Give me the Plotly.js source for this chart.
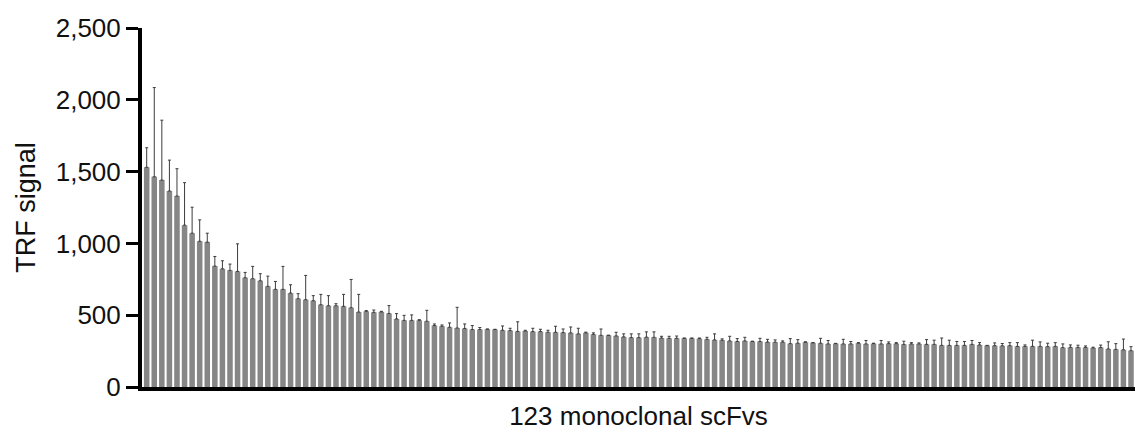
<!DOCTYPE html>
<html>
<head>
<meta charset="utf-8">
<script src="https://cdn.plot.ly/plotly-3.0.1.min.js"></script>
<style>
  html, body { margin: 0; padding: 0; background: #fff; }
  #chart { width: 1137px; height: 439px; }
</style>
</head>
<body>
<div id="chart"></div>
<script>
// TRF signal per monoclonal scFv clone (sorted, mean values)
const signalValues = [
  1530, 1464, 1441, 1365, 1330, 1127, 1071, 1015, 1009, 842,
  823, 812, 805, 761, 754, 740, 701, 680, 680, 654,
  615, 608, 601, 573, 566, 566, 562, 552, 522, 527,
  520, 523, 512, 474, 464, 464, 464, 458, 428, 423,
  416, 411, 407, 400, 400, 402, 400, 395, 393, 387,
  390, 386, 386, 381, 381, 379, 377, 370, 377, 367,
  360, 360, 356, 349, 344, 344, 347, 346, 341, 339,
  339, 339, 339, 337, 332, 328, 326, 321, 317, 321,
  317, 317, 313, 312, 312, 302, 305, 312, 307, 305,
  300, 302, 300, 300, 305, 300, 302, 300, 302, 302,
  297, 300, 300, 297, 297, 290, 290, 290, 290, 297,
  293, 288, 288, 287, 288, 283, 283, 283, 283, 281,
  283, 274, 276, 276, 276, 272, 275, 265, 262, 259,
  253
];
// Upper error (SD) for each clone
const signalErrors = [
  136, 621, 417, 215, 190, 296, 181, 149, 62, 67,
  56, 44, 192, 37, 86, 49, 71, 55, 160, 58,
  35, 169, 35, 72, 70, 14, 83, 197, 123, 5,
  16, 4, 55, 37, 35, 38, 5, 76, 11, 9,
  30, 144, 32, 28, 14, 2, 2, 30, 16, 67,
  5, 23, 16, 14, 42, 25, 41, 39, 5, 10,
  44, 0, 25, 21, 26, 26, 37, 38, 12, 14,
  16, 2, 2, 4, 14, 42, 9, 32, 20, 25,
  2, 22, 19, 16, 9, 35, 25, 3, 3, 34,
  24, 2, 32, 17, 4, 24, 3, 24, 12, 7,
  22, 9, 7, 33, 29, 51, 36, 27, 27, 27,
  16, 2, 19, 16, 21, 26, 10, 43, 31, 24,
  26, 26, 17, 15, 10, 5, 17, 50, 40, 75,
  28
];
const yTickValues = [0, 500, 1000, 1500, 2000, 2500];
const yTickLabels = ['0', '500', '1,000', '1,500', '2,000', '2,500'];
const xTitle = '123 monoclonal scFvs';
const yTitle = 'TRF signal';

const cloneIndex = signalValues.map((_, i) => i + 1);
const lowerZero = signalValues.map(() => 0);

const FONT = 'Arial, "Liberation Sans", Helvetica, sans-serif';

const trace = {
  type: 'bar',
  x: cloneIndex,
  y: signalValues,
  marker: { color: '#868686', line: { width: 0 } },
  error_y: {
    type: 'data',
    symmetric: false,
    array: signalErrors,
    arrayminus: lowerZero,
    color: '#3c3c3c',
    thickness: 1,
    width: 1.5
  },
  hoverinfo: 'x+y'
};

const layout = {
  width: 1137,
  height: 439,
  margin: { l: 142, r: 2, t: 28, b: 52 },
  paper_bgcolor: '#ffffff',
  plot_bgcolor: '#ffffff',
  bargap: 0.27,
  showlegend: false,
  font: { family: FONT, color: '#111111', size: 26 },
  xaxis: {
    range: [0.38, 131.53],
    showticklabels: false,
    ticks: '',
    showgrid: false,
    zeroline: false,
    showline: true,
    linecolor: '#000000',
    linewidth: 4,
    title: { text: xTitle, font: { family: FONT, size: 26, color: '#111111' }, standoff: 18 }
  },
  yaxis: {
    range: [0, 2500],
    tickmode: 'array',
    tickvals: yTickValues,
    ticktext: yTickLabels,
    ticks: 'outside',
    ticklen: 12,
    tickwidth: 3,
    tickcolor: '#000000',
    tickfont: { family: FONT, size: 26, color: '#111111' },
    showgrid: false,
    zeroline: false,
    showline: true,
    linecolor: '#000000',
    linewidth: 4,
    title: { text: yTitle, font: { family: FONT, size: 27, color: '#111111' }, standoff: 13 }
  }
};

Plotly.newPlot('chart', [trace], layout, { displayModeBar: false, staticPlot: true });
</script>
</body>
</html>
